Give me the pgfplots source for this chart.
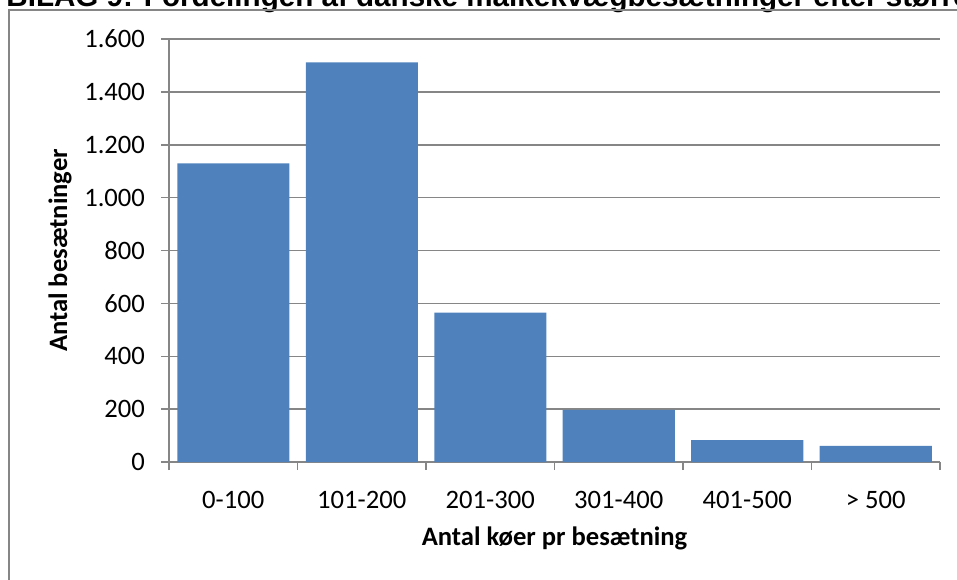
\documentclass[border=0pt]{standalone}
\usepackage{pgfplots}
\pgfplotsset{compat=1.18}
\usepackage{fontspec}
\setmainfont{Carlito}
\newfontfamily\titlefont{Liberation Sans}
\definecolor{barblue}{RGB}{79,129,189}
\definecolor{linegray}{RGB}{134,134,134}

\begin{document}
\begin{tikzpicture}
\useasboundingbox (0,0) rectangle (478.5pt,289.5pt);
% heading (runs past the page edge) and chart frame
\node[anchor=base west, inner sep=0pt, font=\titlefont\bfseries\fontsize{14.8}{16}\selectfont]
  at (3pt,286pt) {BILAG 9: Fordelingen af danske malkekvægbesætninger efter størrelse};
\draw[linegray, line width=0.75pt] (4.5pt,-20pt) -- (4.5pt,284.5pt) -- (500pt,284.5pt);
\begin{axis}[
  at={(84.5pt,58.5pt)}, anchor=south west,
  width=385.5pt, height=211.5pt, scale only axis,
  xmin=-0.5, xmax=5.5, ymin=0, ymax=1600,
  ybar, bar width=56pt,
  axis x line=bottom, axis y line=left,
  axis line style={-, draw=linegray, line width=0.75pt},
  xtick={0,...,5},
  xticklabels={0-100,101-200,201-300,301-400,401-500,{> 500}},
  minor xtick={-0.5,0.5,...,5.5},
  ytick={0,200,...,1600},
  tick align=outside,
  major tick length=4pt, minor tick length=4pt,
  tick style={draw=linegray, line width=0.75pt},
  major x tick style={draw=none},
  ymajorgrids,
  major grid style={draw=linegray, line width=0.75pt},
  font=\fontsize{13.3}{15}\selectfont,
  yticklabel style={xshift=-4.5pt},
  xticklabel style={yshift=-7pt},
  /pgf/number format/assume math mode=true,
  /pgf/number format/1000 sep={.},
  ylabel={\bfseries Antal besætninger},
  xlabel={\bfseries Antal køer pr besætning},
  every axis y label/.style={at={(axis description cs:-0.1414,0.5)}, rotate=90, anchor=center},
  every axis x label/.style={at={(axis description cs:0.5,-0.1797)}, anchor=center},
]
\addplot[fill=barblue, draw=none] coordinates {(0,1130) (1,1512) (2,565) (3,197) (4,83) (5,61)};
\end{axis}
\end{tikzpicture}
\end{document}
